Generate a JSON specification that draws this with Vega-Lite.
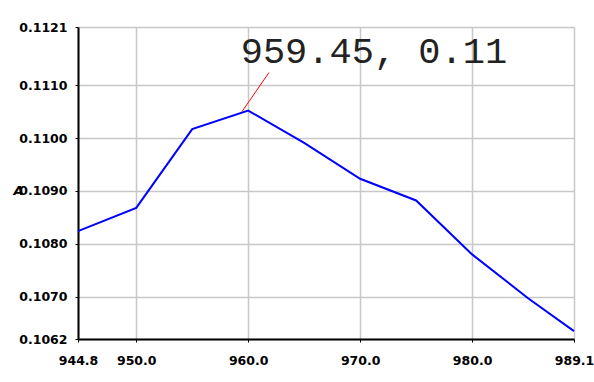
{
  "$schema": "https://vega.github.io/schema/vega-lite/v6.json",
  "autosize": "none",
  "width": 496,
  "height": 312,
  "padding": {"left": 78, "top": 27, "right": 20, "bottom": 43},
  "background": "white",
  "datasets": {
    "spectrum": [
      {"nm": 944.8, "A": 0.10824},
      {"nm": 950.0, "A": 0.10868},
      {"nm": 955.0, "A": 0.11017},
      {"nm": 960.0, "A": 0.11052},
      {"nm": 965.0, "A": 0.10991},
      {"nm": 970.0, "A": 0.10923},
      {"nm": 975.0, "A": 0.10882},
      {"nm": 980.0, "A": 0.10780},
      {"nm": 985.0, "A": 0.10697},
      {"nm": 989.1, "A": 0.10635}
    ],
    "cursor": [
      {"nm": 959.45, "A": 0.11050, "nm2": 961.86, "A2": 0.11124, "tx": 959.33, "ty": 0.111415, "label": "959.45, 0.11"}
    ]
  },
  "config": {
    "view": {"stroke": null},
    "axis": {
      "labelFont": "DejaVu Sans",
      "labelFontWeight": "bold",
      "labelFontSize": 12.5,
      "labelColor": "black",
      "labelFlush": false,
      "labelOverlap": false,
      "titleFont": "DejaVu Sans",
      "titleFontWeight": "bold",
      "titleColor": "black",
      "domainColor": "black",
      "domainWidth": 2,
      "tickColor": "black",
      "tickSize": 3,
      "gridColor": "#c8c8c8",
      "gridWidth": 1.5,
      "gridOpacity": 1
    }
  },
  "layer": [
    {
      "data": {"name": "spectrum"},
      "mark": {"type": "line", "color": "#0000ff", "strokeWidth": 2},
      "encoding": {
        "x": {
          "field": "nm", "type": "quantitative",
          "scale": {"domain": [944.8, 989.1], "nice": false, "zero": false},
          "axis": {
            "values": [944.8, 950, 960, 970, 980, 989.1],
            "format": ".1f",
            "labelPadding": 12,
            "title": "nm",
            "titleFontSize": 12,
            "titleY": 50,
            "titleBaseline": "top"
          }
        },
        "y": {
          "field": "A", "type": "quantitative",
          "scale": {"domain": [0.1062, 0.1121], "nice": false, "zero": false},
          "axis": {
            "values": [0.1062, 0.107, 0.108, 0.109, 0.11, 0.111, 0.1121],
            "format": ".4f",
            "labelPadding": 8,
            "title": "A",
            "titleAngle": 0,
            "titleFontSize": 13,
            "titleFontStyle": "italic",
            "titleX": -60,
            "titleY": 170,
            "titleAlign": "center",
            "titleBaseline": "bottom"
          }
        }
      }
    },
    {
      "data": {"name": "cursor"},
      "mark": {"type": "rule", "color": "#ff0000", "strokeWidth": 1},
      "encoding": {
        "x": {"field": "nm", "type": "quantitative"},
        "y": {"field": "A", "type": "quantitative"},
        "x2": {"field": "nm2"},
        "y2": {"field": "A2"}
      }
    },
    {
      "data": {"name": "cursor"},
      "mark": {"type": "text", "font": "Liberation Mono", "fontSize": 37, "color": "#222222", "align": "left", "baseline": "alphabetic"},
      "encoding": {
        "x": {"field": "tx", "type": "quantitative"},
        "y": {"field": "ty", "type": "quantitative"},
        "text": {"field": "label"}
      }
    }
  ]
}
